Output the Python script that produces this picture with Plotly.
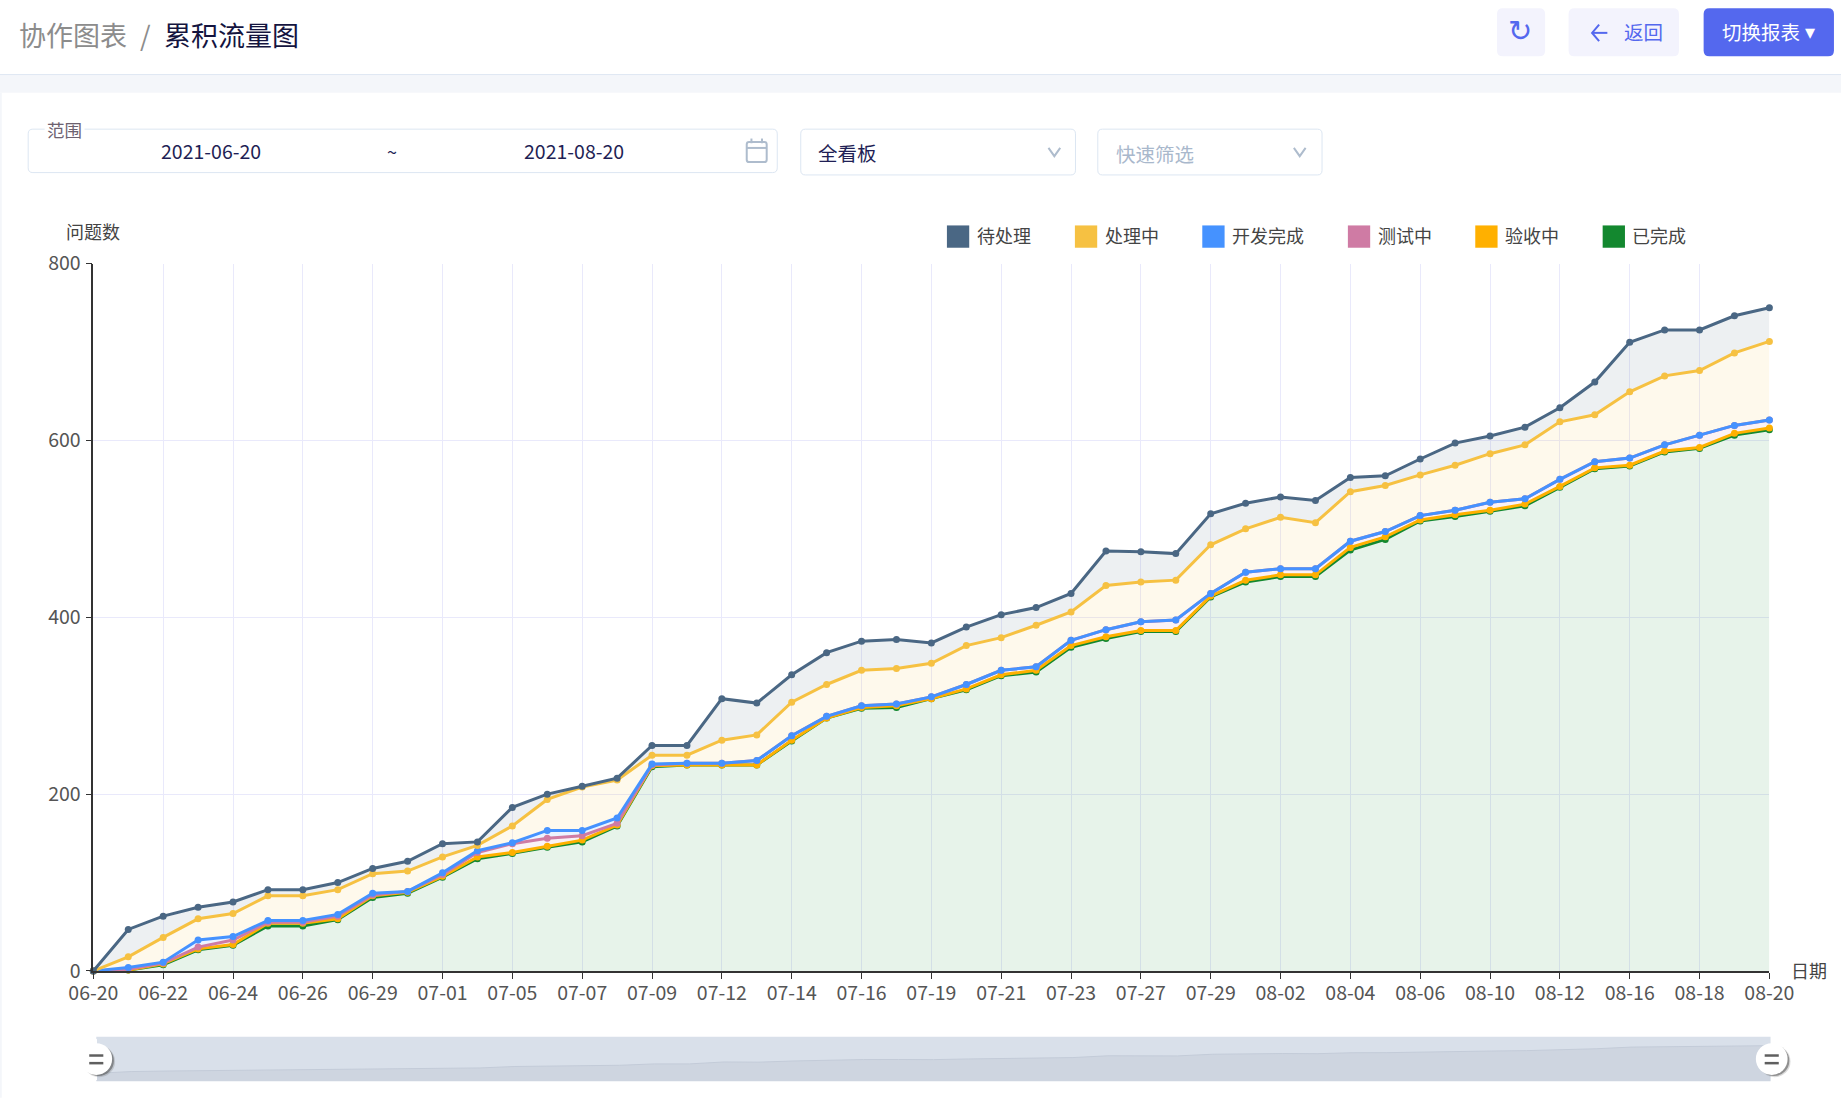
import plotly.graph_objects as go

# ---------- data ----------
dates = ["06-20","06-21","06-22","06-23","06-24","06-25","06-26","06-28","06-29","06-30",
         "07-01","07-02","07-05","07-06","07-07","07-08","07-09","07-10","07-12","07-13",
         "07-14","07-15","07-16","07-17","07-19","07-20","07-21","07-22","07-23","07-26",
         "07-27","07-28","07-29","07-30","08-02","08-03","08-04","08-05","08-06","08-09",
         "08-10","08-11","08-12","08-13","08-16","08-17","08-18","08-19","08-20"]
tick_dates = dates[::2]
y_ticks = [0, 200, 400, 600, 800]

pending = [0,47,62,72,78,92,92,100,116,124,144,146,185,200,209,218,255,255,308,303,
           335,360,373,375,371,389,403,411,427,475,474,472,517,529,536,532,558,560,579,597,
           605,615,637,666,711,725,725,741,750]
in_progress = [0,16,38,59,65,85,85,92,110,113,129,142,164,194,208,216,244,244,261,267,
               304,324,340,342,348,368,377,391,406,436,440,442,482,500,513,507,542,549,561,572,
               585,595,621,629,655,673,679,699,712]
dev_done = [0,4,10,35,39,57,57,64,88,90,111,136,145,159,159,173,234,235,235,238,
            266,288,300,302,310,324,340,344,374,386,395,397,427,451,455,455,486,497,515,521,
            530,534,556,576,580,595,606,617,623]
testing = [0,2,9,27,35,55,55,62,86,90,109,134,144,150,153,167,233,235,235,238,
           266,288,300,302,310,324,340,344,374,386,395,397,427,451,455,455,486,497,515,521,
           530,534,556,576,580,595,606,617,623]
accepting = [0,1,8,25,30,54,54,59,85,89,107,129,134,141,148,165,232,233,233,233,
             261,286,298,300,308,319,335,340,368,378,385,385,424,442,448,448,479,491,510,516,
             521,528,548,569,572,588,592,608,614]
finished = [0,1,7,24,29,51,51,58,83,88,106,127,133,140,146,164,231,233,233,233,
            260,286,297,298,308,318,334,338,366,376,384,384,423,440,446,446,476,488,509,514,
            520,526,547,568,571,587,591,606,612]

# draw order: bottom band first
series = [("已完成", finished, "#13882f", "rgba(19,136,47,0.10)"),
          ("验收中", accepting, "#ffb000", "rgba(255,176,0,0.10)"),
          ("测试中", testing, "#cf7ba4", "rgba(207,123,164,0.10)"),
          ("开发完成", dev_done, "#4592ff", "rgba(69,146,255,0.10)"),
          ("处理中", in_progress, "#f6c142", "rgba(246,193,66,0.10)"),
          ("待处理", pending, "#4a6784", "rgba(74,103,132,0.10)")]
legend_order = [("待处理", "#4a6784", 806.5), ("处理中", "#f6c142", 915.5), ("开发完成", "#4592ff", 1024),
                ("测试中", "#cf7ba4", 1148), ("验收中", "#ffb000", 1256.5), ("已完成", "#13882f", 1365)]

W, H = 1841, 1098
S = W / 1568
FONT = "Noto Sans CJK SC"
def X(v): return v * S / W
def Y(v): return 1 - v * S / H

shapes, notes = [], []
def rect(x0, y0, x1, y1, fill="rgba(0,0,0,0)", line=None, lw=1, r=0, layer="above"):
    a, b, c, d = x0 * S / W, 1 - y0 * S / H, x1 * S / W, 1 - y1 * S / H
    if r:
        rx, ry = r * S / W, r * S / H
        p = (f"M{a+rx},{b} L{c-rx},{b} Q{c},{b} {c},{b-ry} L{c},{d+ry} Q{c},{d} {c-rx},{d} "
             f"L{a+rx},{d} Q{a},{d} {a},{d+ry} L{a},{b-ry} Q{a},{b} {a+rx},{b} Z")
        shapes.append(dict(type="path", path=p, xref="paper", yref="paper", fillcolor=fill, layer=layer,
                           line=dict(color=line or "rgba(0,0,0,0)", width=lw)))
    else:
        shapes.append(dict(type="rect", x0=a, y0=b, x1=c, y1=d, xref="paper", yref="paper", fillcolor=fill,
                           layer=layer, line=dict(color=line or "rgba(0,0,0,0)", width=lw)))
def seg(pts, color, lw=1.5):
    p = "M" + " L".join(f"{x*S/W},{1-y*S/H}" for x, y in pts)
    shapes.append(dict(type="path", path=p, xref="paper", yref="paper", line=dict(color=color, width=lw)))
def circle(cx, cy, r, fill):
    shapes.append(dict(type="circle", xref="paper", yref="paper", x0=(cx-r)*S/W, x1=(cx+r)*S/W,
                       y0=1-(cy+r)*S/H, y1=1-(cy-r)*S/H, fillcolor=fill, line=dict(width=0)))
def text(x, y, s, size, color, anchor="left", family=FONT, bg=None):
    notes.append(dict(x=X(x), y=Y(y), xref="paper", yref="paper", text=s, showarrow=False, xanchor=anchor,
                      yanchor="middle", font=dict(family=family, size=size, color=color),
                      bgcolor=bg, borderpad=0))

# page chrome
rect(0, 63.5, 1568, 79, fill="#f4f6fa", layer="below")
seg([(0, 63.5), (1568, 63.5)], "#dfe7f3", 1)
rect(0, 79, 1.5, 935, fill="#f4f6fa", layer="below")
text(15, 29, "协作图表", 27, "#8c8c8c")
text(118, 29, "/", 27, "#8c8c8c")
text(139, 29, "累积流量图", 27, "#14143f")
rect(1275, 7, 1316, 48, fill="#f3f3fd", r=5)
text(1295, 26, "↻", 29, "#5468ee", "center", "DejaVu Sans")
rect(1336, 7, 1430, 48, fill="#f3f3fd", r=5)
seg([(1369, 28), (1356, 28)], "#5468ee", 2)
seg([(1362, 21), (1356, 28), (1362, 35)], "#5468ee", 2)
text(1382, 27, "返回", 19.5, "#5468ee")
rect(1451, 7, 1562, 48, fill="#5468ee", r=5)
text(1466, 27, "切换报表", 19.5, "#ffffff")
text(1542, 27, "▾", 20, "#ffffff", "center", "DejaVu Sans")

rect(24, 110, 662, 147, line="#dce6f2", r=4)
rect(38, 104, 72, 112, fill="#ffffff")
text(39.5, 110, "范围", 17.5, "#6d6270")
text(180, 128, "2021-06-20", 19.5, "#1f1f55", "center")
text(334, 129, "~", 18, "#1f1f55", "center")
text(489, 128, "2021-08-20", 19.5, "#1f1f55", "center")
rect(636, 121, 653, 138, line="#aebccd", lw=2, r=2)
seg([(636, 126), (653, 126)], "#aebccd", 2)
seg([(640, 118), (640, 122)], "#aebccd", 2)
seg([(649, 118), (649, 122)], "#aebccd", 2)
rect(682, 110, 916, 149, line="#dce6f2", r=4)
text(695.5, 129.5, "全看板", 19.5, "#1f1f55")
seg([(893, 126), (898, 133), (903, 126)], "#aebccd", 2)
rect(935, 110, 1126, 149, line="#dce6f2", r=4)
text(950, 130.5, "快速筛选", 19.5, "#a9b8cc")
seg([(1102, 126), (1107, 133), (1112, 126)], "#aebccd", 2)

text(55.5, 196.5, "问题数", 18, "#444444")
text(1524.5, 826, "日期", 18, "#444444")
for name, col, lx in legend_order:
    rect(lx, 192, lx + 19, 211, fill=col)
    text(lx + 24.5, 200, name, 18, "#444444")

# slider band under its own axes
rect(82, 883, 1508, 921, fill="#d9e0ea", layer="below")

fig = go.Figure()
for i, (name, vals, col, fc) in enumerate(series):
    fig.add_trace(go.Scatter(x=dates, y=vals, name=name, mode="lines+markers", showlegend=False,
                             line=dict(color=col, width=3), marker=dict(color=col, size=7),
                             fill="tozeroy" if i == 0 else "tonexty", fillcolor=fc, cliponaxis=False))

# slider overview drawn from the top series
overview_floor = 218
fig.add_trace(go.Scatter(x=dates, y=[v + overview_floor for v in pending], xaxis="x2", yaxis="y2",
                         mode="lines", showlegend=False, hoverinfo="skip",
                         line=dict(color="#c3cbd8", width=1), fill="tozeroy", fillcolor="#ced5e0"))

# slider handles
for hx in (82, 1509):
    seg([(hx, 885), (hx, 920)], "#ffffff", 1.5)
    circle(hx + 2.5, 904, 13.5, "rgba(90,90,90,0.22)")
    circle(hx + 2, 903.5, 13, "rgba(70,70,70,0.5)")
    circle(hx, 902, 13.5, "#ffffff")
    seg([(hx - 6, 899), (hx + 6, 899)], "#5f5f5f", 2.5)
    seg([(hx - 6, 905.5), (hx + 6, 905.5)], "#5f5f5f", 2.5)

grid = "#e9e9fb"
tick_font = dict(size=19.5, color="#555555")
fig.update_layout(
    width=W, height=H, autosize=False, margin=dict(l=0, r=0, t=0, b=0, autoexpand=False),
    paper_bgcolor="#ffffff", plot_bgcolor="#ffffff", showlegend=False,
    font=dict(family=FONT, size=18, color="#444444"), shapes=shapes, annotations=notes,
    xaxis=dict(domain=[X(79.5), X(1507)], type="category", categoryorder="array", categoryarray=dates,
               range=[0, 48], tickmode="array", tickvals=tick_dates, ticktext=tick_dates, automargin=False,
               showgrid=True, gridcolor=grid, gridwidth=1, showline=True, linecolor="#333333", linewidth=1.5,
               ticks="outside", ticklen=6, tickcolor="#333333", tickfont=tick_font, ticklabelstandoff=-2,
               tickangle=0, zeroline=False, anchor="y"),
    yaxis=dict(domain=[Y(827), Y(224.5)], range=[0, 800], tickmode="array", tickvals=y_ticks, automargin=False,
               showgrid=True, gridcolor=grid, gridwidth=1, showline=True, linecolor="#333333", linewidth=1.5,
               ticks="outside", ticklen=6, tickcolor="#333333", tickfont=tick_font, ticklabelstandoff=1,
               zeroline=False, anchor="x"),
    xaxis2=dict(domain=[X(82), X(1508)], type="category", categoryorder="array", categoryarray=dates,
                range=[0, 48], visible=False, anchor="y2", automargin=False),
    yaxis2=dict(domain=[Y(921), Y(883)], range=[0, 1210], visible=False, anchor="x2", automargin=False),
)
fig.write_html("out.html", config=dict(displayModeBar=False),
               post_script="document.body.style.margin='0';document.body.style.overflow='hidden';")
